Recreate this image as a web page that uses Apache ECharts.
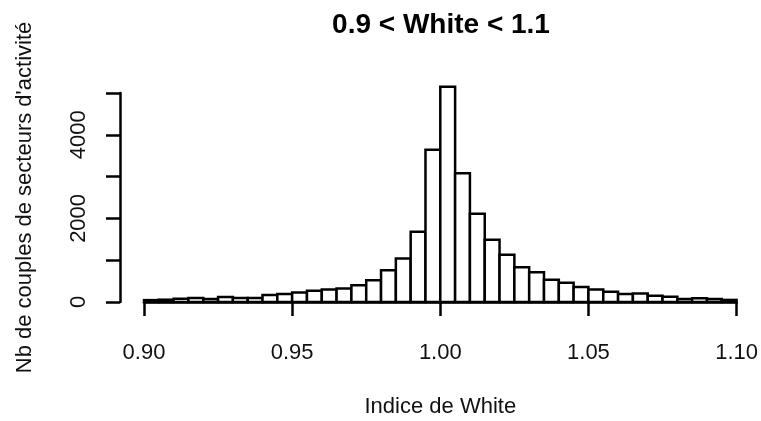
<!DOCTYPE html>
<html><head><meta charset="utf-8">
<script src="https://cdn.jsdelivr.net/npm/echarts@6/dist/echarts.min.js"></script>
<style>html,body{margin:0;padding:0;background:#fff}#c{width:761px;height:421px}</style>
</head><body><div id="c"></div>
<script>
const chartTitle = '0.9 < White < 1.1';
const xName = 'Indice de White';
const yName = "Nb de couples de secteurs d'activité";
const binStart = 0.9;
const binWidth = 0.005;
const counts = [45, 55, 80, 95, 70, 120, 95, 95, 170, 190,
                230, 270, 300, 320, 400, 520, 760, 1040, 1680, 3640,
                5150, 3080, 2110, 1490, 1130, 830, 710, 535, 460, 360,
                300, 245, 190, 205, 150, 125, 70, 90, 70, 50];
const yTickLabels = {0: '0', 2000: '2000', 4000: '4000'};

const FONT = "'Liberation Sans', Arial, sans-serif";
const histData = counts.map((c, i) => [binStart + i * binWidth, binStart + (i + 1) * binWidth, c]);

const chart = echarts.init(document.getElementById('c'), null, {renderer: 'canvas'});
chart.setOption({
  animation: false,
  backgroundColor: '#fff',
  title: {
    text: chartTitle, left: 436, top: 6, textAlign: 'center',
    textStyle: {fontFamily: FONT, fontSize: 28, fontWeight: 'bold', color: '#000'}
  },
  grid: {left: 144, right: 24, top: 93, bottom: 119, containLabel: false},
  xAxis: {
    type: 'value', min: 0.9, max: 1.1, interval: 0.05, offset: 10,
    name: xName, nameLocation: 'middle', nameGap: 84,
    nameTextStyle: {fontFamily: FONT, fontSize: 22, color: '#111'},
    axisLine: {show: true, lineStyle: {color: '#000', width: 2.5}},
    axisTick: {show: true, length: 14, lineStyle: {color: '#000', width: 2.5}},
    axisLabel: {margin: 30, fontFamily: FONT, fontSize: 22, color: '#111',
      formatter: v => v.toFixed(2)},
    splitLine: {show: false}
  },
  yAxis: {
    type: 'value', min: 0, max: 5000, interval: 1000, position: 'left', offset: 24,
    name: yName, nameLocation: 'middle', nameGap: 84, nameRotate: 90,
    nameTextStyle: {fontFamily: FONT, fontSize: 22, color: '#111'},
    axisLine: {show: true, lineStyle: {color: '#000', width: 2.5}},
    axisTick: {show: true, length: 14, lineStyle: {color: '#000', width: 2.5}},
    axisLabel: {rotate: 90, margin: 30, fontFamily: FONT, fontSize: 22, color: '#111',
      formatter: v => yTickLabels[v] || ''},
    splitLine: {show: false}
  },
  series: [{
    type: 'custom', clip: false,
    data: histData,
    encode: {x: [0, 1], y: 2},
    renderItem: function (params, api) {
      const p0 = api.coord([api.value(0), api.value(2)]);
      const p1 = api.coord([api.value(1), 0]);
      return {
        type: 'rect',
        shape: {x: p0[0], y: p0[1], width: p1[0] - p0[0], height: p1[1] - p0[1]},
        style: {fill: '#fff', stroke: '#000', lineWidth: 2.5}
      };
    }
  }]
});
</script></body></html>
